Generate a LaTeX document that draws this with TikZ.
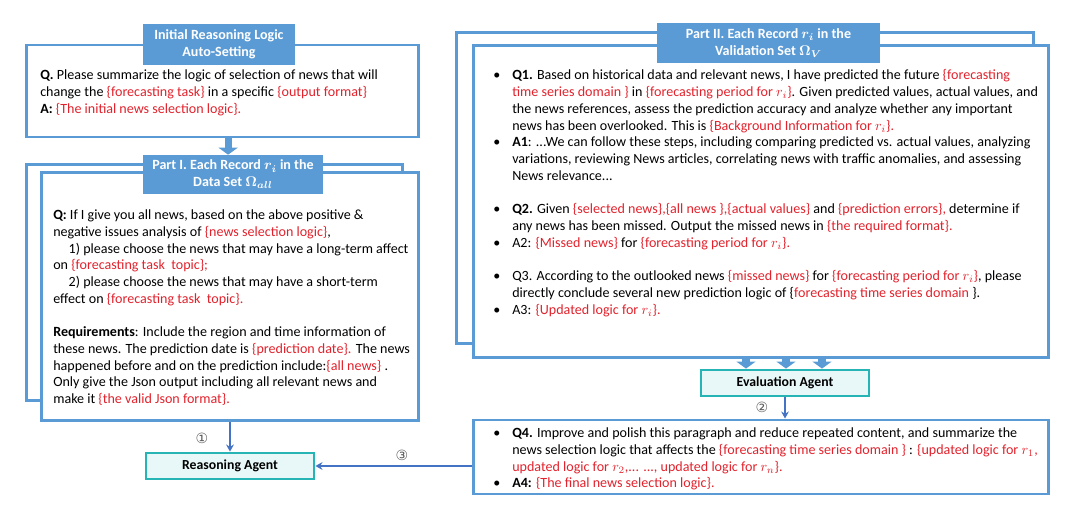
\documentclass[tikz,border=0pt]{standalone}
\usepackage{fontspec}
\setmainfont{Carlito}
\newfontfamily\circfont{DejaVu Sans}
\usepackage{amsmath}
\usepackage{bm}
\usepackage{tikz}
\usetikzlibrary{positioning,calc,arrows.meta,shadows}

\definecolor{boxblue}{RGB}{91,155,213}
\definecolor{hlred}{RGB}{226,35,45}
\definecolor{agentteal}{RGB}{38,180,180}
\definecolor{agentfill}{RGB}{232,248,248}
\definecolor{linkblue}{RGB}{68,114,196}

\newcommand{\rd}[1]{\textcolor{hlred}{#1}}
\newcommand{\bitem}{\makebox[13.5pt][l]{\textbullet}}
\newcommand{\bcont}{\hspace*{13.5pt}}

\tikzset{
  panel/.style={draw=boxblue, line width=2.1pt, fill=white, inner sep=0pt},
  boxshadow/.style={drop shadow={opacity=0.25, shadow xshift=1.2pt, shadow yshift=-1.2pt}},
  ptitle/.style={fill=boxblue, text=white, align=center, inner sep=0pt,
    font=\bfseries\fontsize{10}{12}\selectfont},
  body/.style={align=left, inner sep=0pt, anchor=north west,
    font=\fontsize{10}{11.9}\selectfont},
  agent/.style={draw=agentteal, line width=2pt, fill=agentfill, inner sep=0pt,
    minimum width=4.2cm, minimum height=0.65cm, font=\bfseries\fontsize{9.8}{11}\selectfont},
  link/.style={draw=linkblue, line width=1pt, -{Stealth[length=5pt,width=5.5pt]}},
  blockarrow/.style={draw=boxblue, line width=5pt, -{Triangle[length=5pt,width=13.5pt]}},
  num/.style={text=black!65, font=\circfont\fontsize{10}{12}\selectfont, inner sep=0pt}
}

\begin{document}
\begin{tikzpicture}[x=0.025cm,y=-0.025cm]
  \useasboundingbox (0,0) rectangle (1080,511);

  % initial reasoning logic
  \node[panel, minimum width=9.775cm, minimum height=2.3cm] (init) at (222.5,91) {};
  \node[ptitle, minimum width=3.8cm, minimum height=1.025cm] (initT) at (219,44.5) {Initial Reasoning Logic\\Auto-Setting};
  \node[body] (initQ) at (40,69.5) {\textbf{Q.} Please summarize the logic of selection of news that will\\
    change the \rd{\{forecasting task\}} in a specific \rd{\{output format\}}\\
    \textbf{A:} \rd{\{The initial news selection logic\}.}};

  % part I
  \node[panel, boxshadow, minimum width=9.375cm, minimum height=5.875cm] (p1b) at (214.5,282.5) {};
  \node[panel, boxshadow, minimum width=9.4cm, minimum height=6.175cm] (p1) at (230,296.5) {};
  \node[ptitle, minimum width=4.5cm, minimum height=0.975cm] (p1T) at (233,174.5) {Part I. Each Record $\bm{r_i}$ in the\\Data Set $\bm{\Omega_{all}}$};
  \node[body] (p1Q) at (53,209.5) {\textbf{Q:} If I give you all news, based on the above positive \&\\
    negative issues analysis of \rd{\{news selection logic\}},\\
    \hspace*{11pt}1) please choose the news that may have a long-term affect\\
    on \rd{\{forecasting task\ \ topic\};}\\
    \hspace*{11pt}2) please choose the news that may have a short-term\\
    effect on \rd{\{forecasting task\ \ topic\}.}\\
    \mbox{}\\
    \textbf{Requirements}: Include the region and time information of\\
    these news. The prediction date is \rd{\{prediction date\}.} The news\\
    happened before and on the prediction include:\rd{\{all news\}} .\\
    Only give the Json output including all relevant news and\\
    make it \rd{\{the valid Json format\}.}};

  \coordinate (fork) at ([xshift=0.14cm]init.south);
  \draw[blockarrow] (fork) -- (fork |- p1T.north);

  \node[agent] (ra) at (230,466) {Reasoning Agent};
  \draw[link] (p1.south) -- (ra.north);
  \node[num] (n1) at (202,438) {①};

  % part II
  \node[panel, boxshadow, minimum width=14.4cm, minimum height=7.75cm] (p2b) at (745,188) {};
  \node[panel, boxshadow, minimum width=14.35cm, minimum height=7.775cm] (p2) at (761,201.5) {};
  \node[ptitle, minimum width=5.575cm, minimum height=1cm] (p2T) at (768.5,43) {Part II. Each Record $\bm{r_i}$ in the\\Validation Set $\bm{\Omega_{V}}$};
  \node[body] (p2Q) at (493,69.5) {\bitem\textbf{Q1.} Based on historical data and relevant news, I have predicted the future \rd{\{forecasting}\\
    \bcont\rd{time series domain \}} in \rd{\{forecasting period for $r_i$\}}. Given predicted values, actual values, and\\
    \bcont the news references, assess the prediction accuracy and analyze whether any important\\
    \bcont news has been overlooked. This is \rd{\{Background Information for $r_i$\}.}\\
    \bitem\textbf{A1}: ...We can follow these steps, including comparing predicted vs. actual values, analyzing\\
    \bcont variations, reviewing News articles, correlating news with traffic anomalies, and assessing\\
    \bcont News relevance...\\
    \mbox{}\\
    \bitem\textbf{Q2.} Given \rd{\{selected news\},\{all news \},\{actual values\}} and \rd{\{prediction errors\},} determine if\\
    \bcont any news has been missed. Output the missed news in \rd{\{the required format\}.}\\
    \bitem A2: \rd{\{Missed news\}} for \rd{\{forecasting period for $r_i$\}.}\\
    \mbox{}\\
    \bitem Q3. According to the outlooked news \rd{\{missed news\}} for \rd{\{forecasting period for $r_i$\}}, please\\
    \bcont directly conclude several new prediction logic of \{\rd{forecasting time series domain }\}.\\
    \bitem A3: \rd{\{Updated logic for $r_i$\}.}};

  \node[agent] (ea) at (785,383) {Evaluation Agent};
  \foreach \dx [count=\i] in {-39,1,37} {
    \coordinate (t\i) at ([xshift=\dx*0.025cm]ea.north);
    \draw[blockarrow] (t\i |- p2.south) -- (t\i);
  }

  % final summary
  \node[panel, minimum width=14.35cm, minimum height=1.85cm] (q4) at (761,457) {};
  \node[body] (q4Q) at (493,427.5) {\bitem\textbf{Q4.} Improve and polish this paragraph and reduce repeated content, and summarize the\\
    \bcont news selection logic that affects the \rd{\{forecasting time series domain \}} : \rd{\{updated logic for $r_1$,}\\
    \bcont\rd{updated logic for $r_2$,... ..., updated logic for $r_n$\}.}\\
    \bitem\textbf{A4:} \rd{\{The final news selection logic\}.}};

  \draw[link] (ea.south) -- (ea.south |- q4.north);
  \node[num] (n2) at (762,407) {②};
  \draw[link] (q4.west |- ra.east) -- (ra.east);
  \node[num] (n3) at (402,455) {③};
\end{tikzpicture}
\end{document}
